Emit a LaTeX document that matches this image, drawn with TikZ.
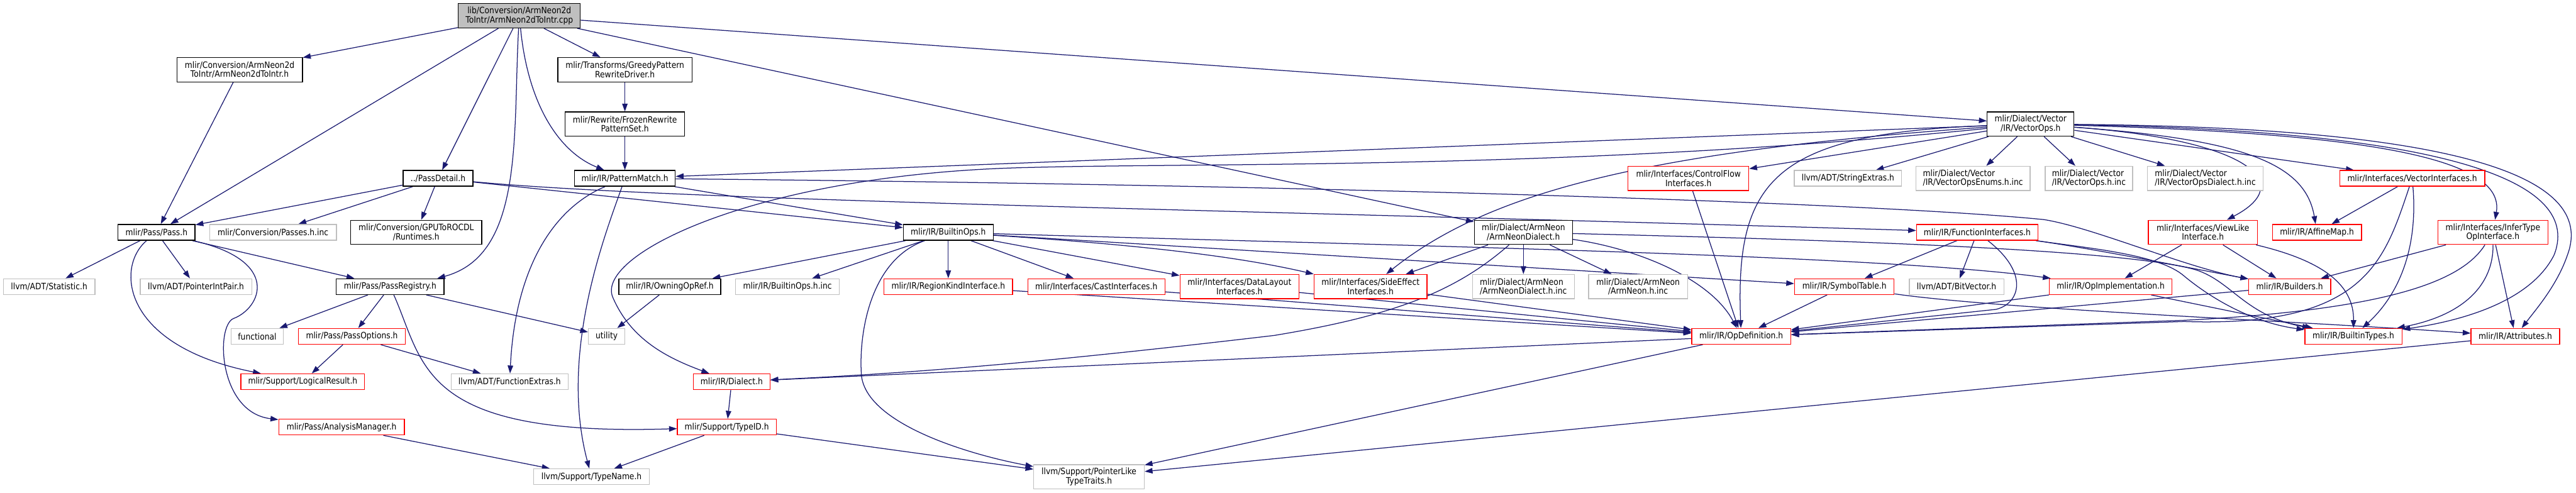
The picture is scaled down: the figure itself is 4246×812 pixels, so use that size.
\documentclass[tikz,border=0pt]{standalone}
\usepackage{fontspec}
\usepackage{xcolor}
\usepackage{tikz}
\usetikzlibrary{arrows.meta,positioning,backgrounds}
\newfontfamily\dxfont{DejaVu Sans}[FakeStretch=0.88]
\definecolor{edgeblue}{RGB}{25,25,112}
\definecolor{incgray}{RGB}{191,191,191}
\definecolor{truncred}{RGB}{255,0,0}

\begin{document}
\begin{tikzpicture}[x=1pt,y=-1pt,
  box/.style={rectangle,draw=black,fill=white,line width=1.4pt,inner sep=0pt,minimum height=26pt,
              align=center,font=\dxfont\fontsize{14.5}{15}\selectfont},
  dbl/.style={minimum height=40pt},
  rbox/.style={box,draw=truncred},
  gbox/.style={box,draw=incgray},
  arr/.style={-{Triangle[length=13pt,width=9pt]},line width=1.3pt,draw=edgeblue,fill=none}]
\useasboundingbox (0,0) rectangle (4246,812);
\node[box,dbl,fill=incgray,minimum width=201] (cpp) at (856,26) {lib/Conversion/ArmNeon2d\\ToIntr/ArmNeon2dToIntr.cpp};
\node[box,dbl,minimum width=207] (neonh) at (395,115) {mlir/Conversion/ArmNeon2d\\ToIntr/ArmNeon2dToIntr.h};
\node[box,dbl,minimum width=221] (greedy) at (1030,115) {mlir/Transforms/GreedyPattern\\RewriteDriver.h};
\node[box,dbl,minimum width=197] (frozen) at (1030,204.5) {mlir/Rewrite/FrozenRewrite\\PatternSet.h};
\node[box,minimum width=166] (pm) at (1030,294) {mlir/IR/PatternMatch.h};
\node[box,minimum width=115] (pdet) at (722,294) {../PassDetail.h};
\node[box,minimum width=127] (pass) at (258,383) {mlir/Pass/Pass.h};
\node[gbox,minimum width=209] (passinc) at (450,383) {mlir/Conversion/Passes.h.inc};
\node[box,dbl,minimum width=216] (gpurt) at (686,383) {mlir/Conversion/GPUToROCDL\\/Runtimes.h};
\node[box,minimum width=148] (bops) at (1563,383) {mlir/IR/BuiltinOps.h};
\node[box,dbl,minimum width=162] (andial) at (2511,383) {mlir/Dialect/ArmNeon\\/ArmNeonDialect.h};
\node[rbox,dbl,minimum width=199] (cflow) at (2783,294) {mlir/Interfaces/ControlFlow\\Interfaces.h};
\node[box,dbl,minimum width=143] (vops) at (3347,204.5) {mlir/Dialect/Vector\\/IR/VectorOps.h};
\node[gbox,minimum width=177] (strext) at (3046,294) {llvm/ADT/StringExtras.h};
\node[gbox,dbl,align=left,minimum width=188] (enums) at (3252,294) {mlir/Dialect/Vector\\/IR/VectorOpsEnums.h.inc};
\node[gbox,dbl,align=left,minimum width=144] (vopsinc) at (3443,294) {mlir/Dialect/Vector\\/IR/VectorOps.h.inc};
\node[gbox,dbl,align=left,minimum width=191] (vdialinc) at (3635,294) {mlir/Dialect/Vector\\/IR/VectorOpsDialect.h.inc};
\node[rbox,minimum width=239] (vint) at (3976,294) {mlir/Interfaces/VectorInterfaces.h};
\node[rbox,minimum width=200] (fint) at (3259,383) {mlir/IR/FunctionInterfaces.h};
\node[rbox,dbl,minimum width=180] (viewl) at (3631,383) {mlir/Interfaces/ViewLike\\Interface.h};
\node[rbox,minimum width=147] (amap) at (3819,383) {mlir/IR/AffineMap.h};
\node[rbox,dbl,minimum width=181] (infer) at (4109,383) {mlir/Interfaces/InferType\\OpInterface.h};
\node[gbox,minimum width=151] (stat) at (81,472.5) {llvm/ADT/Statistic.h};
\node[gbox,minimum width=184] (pip) at (323,472.5) {llvm/ADT/PointerIntPair.h};
\node[box,minimum width=178] (preg) at (643,472.5) {mlir/Pass/PassRegistry.h};
\node[gbox,minimum width=86] (func) at (424,554.5) {functional};
\node[rbox,minimum width=176] (popt) at (580,554.5) {mlir/Pass/PassOptions.h};
\node[rbox,minimum width=204] (lres) at (499,629.3) {mlir/Support/LogicalResult.h};
\node[rbox,minimum width=207] (amgr) at (563,704) {mlir/Pass/AnalysisManager.h};
\node[box,minimum width=168] (owning) at (1104,472.5) {mlir/IR/OwningOpRef.h};
\node[gbox,minimum width=171] (bopsinc) at (1298,472.5) {mlir/IR/BuiltinOps.h.inc};
\node[gbox,minimum width=60] (util) at (1000,554.5) {utility};
\node[gbox,minimum width=193] (fextra) at (840,629.3) {llvm/ADT/FunctionExtras.h};
\node[rbox,minimum width=126] (dialect) at (1206,629.3) {mlir/IR/Dialect.h};
\node[rbox,minimum width=163] (typeid) at (1198,704) {mlir/Support/TypeID.h};
\node[gbox,minimum width=191] (tname) at (975,786) {llvm/Support/TypeName.h};
\node[rbox,minimum width=212] (regk) at (1563,472.5) {mlir/IR/RegionKindInterface.h};
\node[rbox,minimum width=226] (cast) at (1807,472.5) {mlir/Interfaces/CastInterfaces.h};
\node[rbox,dbl,minimum width=196] (dlay) at (2043,472.5) {mlir/Interfaces/DataLayout\\Interfaces.h};
\node[gbox,dbl,minimum width=182] (pltt) at (1795,786) {llvm/Support/PointerLike\\TypeTraits.h};
\node[rbox,dbl,minimum width=186] (sidefx) at (2259,472.5) {mlir/Interfaces/SideEffect\\Interfaces.h};
\node[gbox,dbl,align=left,minimum width=168] (andialinc) at (2511,472.5) {mlir/Dialect/ArmNeon\\/ArmNeonDialect.h.inc};
\node[gbox,dbl,minimum width=163] (aninc) at (2700,472.5) {mlir/Dialect/ArmNeon\\/ArmNeon.h.inc};
\node[rbox,minimum width=163] (opdef) at (2870,554.5) {mlir/IR/OpDefinition.h};
\node[rbox,minimum width=164] (symt) at (3040,472.5) {mlir/IR/SymbolTable.h};
\node[gbox,minimum width=156] (bitv) at (3225,472.5) {llvm/ADT/BitVector.h};
\node[rbox,minimum width=202] (opimpl) at (3479,472.5) {mlir/IR/OpImplementation.h};
\node[rbox,minimum width=135] (builders) at (3774,472.5) {mlir/IR/Builders.h};
\node[rbox,minimum width=160] (btypes) at (3879,554.5) {mlir/IR/BuiltinTypes.h};
\node[rbox,minimum width=146] (attrs) at (4146,554.5) {mlir/IR/Attributes.h};
\begin{scope}[on background layer]
\draw[arr] (cpp) -- (neonh); \draw[arr] (cpp) -- (pass); \draw[arr] (cpp) -- (pdet);
\draw[arr] (cpp) .. controls (845,220) and (865,420) .. (preg.10);
\draw[arr] (cpp) .. controls (870,170) and (920,250) .. (pm);
\draw[arr] (cpp) -- (greedy); \draw[arr] (cpp) -- (andial); \draw[arr] (cpp) -- (vops);
\draw[arr] (neonh) -- (pass);
\draw[arr] (pdet) -- (pass); \draw[arr] (pdet) -- (passinc); \draw[arr] (pdet) -- (gpurt);
\draw[arr] (pdet) -- (bops);
\draw[arr] (pdet) .. controls (1100,330) and (2000,345) .. (fint);
\draw[arr] (greedy) -- (frozen); \draw[arr] (frozen) -- (pm);
\draw[arr] (pm) -- (bops);
\draw[arr] (pm) .. controls (920,340) and (850,430) .. (fextra);
\draw[arr] (pm) .. controls (1000,380) and (920,580) .. (tname);
\draw[arr] (pm) .. controls (2200,305) and (3100,335) .. (3369,362) .. controls (3450,375) and (3600,440) .. (builders);
\draw[arr] (pass) -- (stat); \draw[arr] (pass) -- (pip); \draw[arr] (pass) -- (preg);
\draw[arr] (pass) .. controls (190,440) and (200,570) .. (lres);
\draw[arr] (pass) .. controls (465,430) and (430,508) .. (385,525) .. controls (355,537) and (360,680) .. (amgr);
\draw[arr] (preg) -- (func); \draw[arr] (preg) -- (popt); \draw[arr] (preg) -- (util);
\draw[arr] (preg) .. controls (700,600) and (690,720) .. (typeid);
\draw[arr] (popt) -- (lres); \draw[arr] (popt) -- (fextra);
\draw[arr] (amgr) -- (tname);
\draw[arr] (bops) -- (owning); \draw[arr] (bops) -- (bopsinc); \draw[arr] (bops) -- (regk);
\draw[arr] (bops) -- (cast); \draw[arr] (bops) -- (dlay);
\draw[arr] (bops) .. controls (1900,405) and (2050,425) .. (sidefx.north west);
\draw[arr] (bops) -- (symt);
\draw[arr] (bops) .. controls (2300,405) and (3100,420) .. (opimpl);
\draw[arr] (bops) .. controls (1430,430) and (1415,560) .. (1420,620) .. controls (1430,700) and (1600,750) .. (pltt);
\draw[arr] (owning) -- (util);
\draw[arr] (dialect) -- (typeid);
\draw[arr] (typeid) -- (tname); \draw[arr] (typeid) -- (pltt);
\draw[arr] (regk) -- (opdef); \draw[arr] (cast) -- (opdef); \draw[arr] (dlay) -- (opdef);
\draw[arr] (sidefx) -- (opdef); \draw[arr] (cflow) -- (opdef);
\draw[arr] (andial) -- (sidefx); \draw[arr] (andial) -- (andialinc); \draw[arr] (andial) -- (aninc);
\draw[arr] (andial) .. controls (2400,480) and (2300,520) .. (2100,553) .. controls (1700,600) and (1500,615) .. (dialect);
\draw[arr] (andial) .. controls (2700,410) and (2820,460) .. (opdef);
\draw[arr] (andial) .. controls (3000,395) and (3500,410) .. (3620,445) .. controls (3680,465) and (3700,520) .. (btypes);
\draw[arr] (vops) -- (pm);
\draw[arr] (vops) .. controls (2600,280) and (2000,268) .. (1700,276) .. controls (1250,285) and (980,420) .. (1010,490) .. controls (1040,560) and (1100,590) .. (dialect);
\draw[arr] (vops) .. controls (2700,250) and (2450,320) .. (sidefx);
\draw[arr] (vops) -- (cflow);
\draw[arr] (vops) .. controls (2920,220) and (2860,300) .. (opdef);
\draw[arr] (vops) -- (strext); \draw[arr] (vops) -- (enums); \draw[arr] (vops) -- (vopsinc);
\draw[arr] (vops) -- (vdialinc); \draw[arr] (vops) -- (vint);
\draw[arr] (vops) .. controls (3700,230) and (3790,300) .. (viewl);
\draw[arr] (vops) .. controls (3700,230) and (3800,270) .. (amap);
\draw[arr] (vops) .. controls (3900,220) and (4130,260) .. (infer);
\draw[arr] (vops) .. controls (4000,215) and (4260,290) .. (4210,420) .. controls (4170,500) and (4050,530) .. (btypes);
\draw[arr] (vops) .. controls (4050,210) and (4280,290) .. (4232,420) .. controls (4215,470) and (4180,510) .. (attrs);
\draw[arr] (vint) -- (amap);
\draw[arr] (vint) .. controls (3930,430) and (3900,540) .. (3600,530) -- (opdef);
\draw[arr] (vint) .. controls (3985,400) and (3960,480) .. (btypes);
\draw[arr] (fint) -- (symt); \draw[arr] (fint) -- (bitv);
\draw[arr] (fint) .. controls (3345,450) and (3330,500) .. (3290,510) -- (opdef);
\draw[arr] (fint) .. controls (3450,410) and (3600,440) .. (builders);
\draw[arr] (fint) .. controls (3450,410) and (3560,420) .. (3600,455) .. controls (3630,480) and (3700,530) .. (btypes);
\draw[arr] (viewl) -- (opimpl); \draw[arr] (viewl) -- (builders);
\draw[arr] (viewl) .. controls (3830,430) and (3880,470) .. (btypes);
\draw[arr] (infer) -- (builders); \draw[arr] (infer) -- (attrs);
\draw[arr] (infer) .. controls (4060,460) and (3950,510) .. (3600,528) -- (opdef);
\draw[arr] (infer) .. controls (4110,470) and (4060,520) .. (btypes);
\draw[arr] (symt) -- (opdef);
\draw[arr] (symt) .. controls (3300,510) and (3800,530) .. (attrs);
\draw[arr] (opimpl) -- (opdef); \draw[arr] (opimpl) -- (btypes);
\draw[arr] (builders) -- (opdef);
\draw[arr] (opdef) -- (dialect); \draw[arr] (opdef) -- (pltt);
\draw[arr] (attrs) -- (pltt);
\end{scope}
\end{tikzpicture}
\end{document}
